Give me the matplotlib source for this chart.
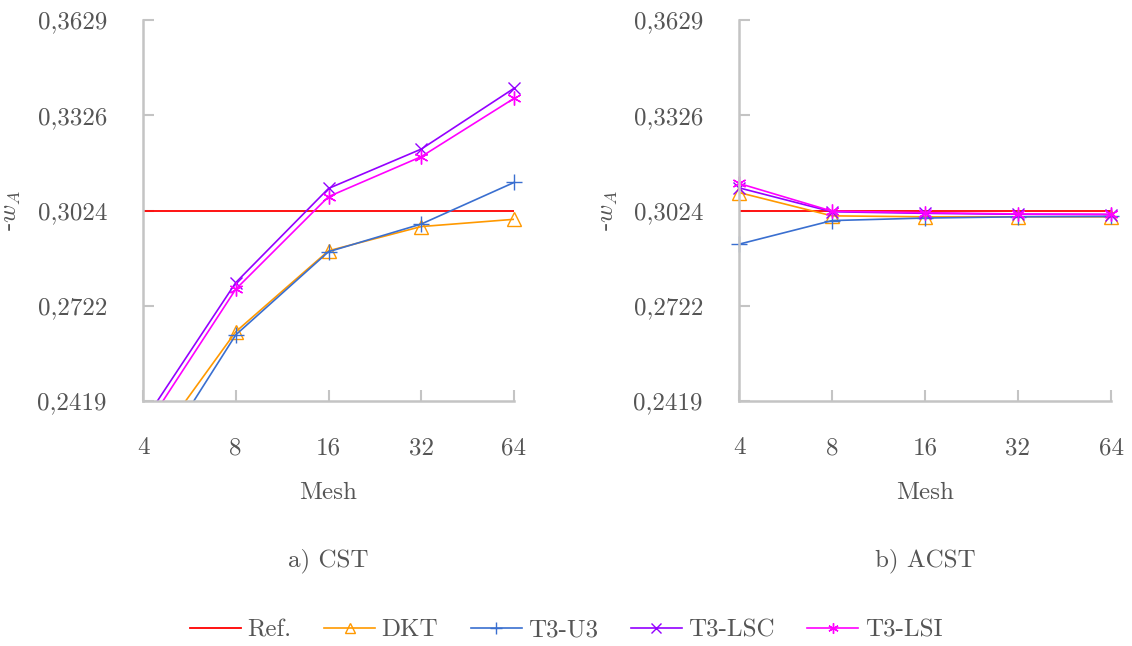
import numpy as np
import matplotlib
matplotlib.use('Agg')
import matplotlib.pyplot as plt
from matplotlib.lines import Line2D

plt.rcParams['font.family'] = ['cmr10', 'DejaVu Serif']
plt.rcParams['mathtext.fontset'] = 'cm'
plt.rcParams['axes.unicode_minus'] = False

mesh = [4, 8, 16, 32, 64]
ref = 0.3024
yticks = [0.2419, 0.2722, 0.3024, 0.3326, 0.3629]
ytick_labels = ['0,2419', '0,2722', '0,3024', '0,3326', '0,3629']

# a) CST
cst_dkt = [0.2232, 0.2639, 0.2896, 0.2973, 0.2996]
cst_u3 = [0.2165, 0.2629, 0.2893, 0.2981, 0.3113]
cst_lsc = [0.2350, 0.2795, 0.3094, 0.3219, 0.3412]
cst_lsi = [0.2322, 0.2774, 0.3068, 0.3195, 0.3380]

# b) ACST
acst_dkt = [0.3081, 0.3007, 0.3004, 0.3004, 0.3004]
acst_u3 = [0.2917, 0.2992, 0.3000, 0.3004, 0.3005]
acst_lsc = [0.3096, 0.3020, 0.3015, 0.3012, 0.3011]
acst_lsi = [0.3110, 0.3022, 0.3017, 0.3013, 0.3012]

grey = '#c4c4c4'
txt = '#555555'
fs = 18
ymin, ymax = 0.2419, 0.3629

fig = plt.figure(figsize=(11.32, 6.46), dpi=100)
ax1 = fig.add_axes([143 / 1132, 1 - 401 / 646, 371 / 1132, 381 / 646])
ax2 = fig.add_axes([739 / 1132, 1 - 401 / 646, 372 / 1132, 381 / 646])

styles = [
    ('DKT', '#ff9900', '^', 10, dict(markerfacecolor='none')),
    ('T3-U3', '#3a6fd0', '+', 11, {}),
    ('T3-LSC', '#9400ff', 'x', 9, {}),
    ('T3-LSI', '#ff00ff', (6, 2, 0), 10, {}),
]


def draw(ax, series, title):
    ax.set_xscale('log', base=2)
    ax.axhline(ref, color='red', lw=1.3)
    for (name, col, mk, ms, kw), vals in zip(styles, series):
        ax.plot(mesh, vals, color=col, lw=1.2)
        xs = [m for m, v in zip(mesh, vals) if v >= ymin]
        ys = [v for v in vals if v >= ymin]
        ax.plot(xs, ys, ls='none', color=col, marker=mk, markersize=ms,
                markeredgewidth=1.0, clip_on=False, **kw)
    ax.set_xlim(4, 64)
    ax.set_ylim(ymin, ymax)
    ax.set_xticks(mesh)
    ax.set_xticklabels([str(m) for m in mesh])
    ax.minorticks_off()
    ax.set_yticks(yticks)
    ax.set_yticklabels(ytick_labels)
    for s in ['top', 'right']:
        ax.spines[s].set_visible(False)
    for s in ['left', 'bottom']:
        ax.spines[s].set_color(grey)
        ax.spines[s].set_linewidth(1.8)
    ax.tick_params(direction='in', length=8, width=1.5, color=grey,
                   labelsize=fs, labelcolor=txt, pad=26)
    ax.set_xlabel('Mesh', fontsize=fs, color=txt, labelpad=16)
    ax.set_ylabel(r'-$w_A$', fontsize=fs, color=txt, labelpad=10)
    ax.text(0.5, -0.42, title, transform=ax.transAxes, ha='center',
            va='center', fontsize=fs, color=txt)


draw(ax1, [cst_dkt, cst_u3, cst_lsc, cst_lsi], 'a) CST')
draw(ax2, [acst_dkt, acst_u3, acst_lsc, acst_lsi], 'b) ACST')

handles = [Line2D([], [], color='red', lw=1.3)]
labels = ['Ref.']
for name, col, mk, ms, kw in styles:
    handles.append(Line2D([], [], color=col, lw=1.2, marker=mk,
                          markersize=ms * 0.75, markeredgewidth=1.0, **kw))
    labels.append(name)
leg = fig.legend(handles, labels, loc='center', bbox_to_anchor=(0.5, 1 - 630 / 646),
                 ncol=5, frameon=False, fontsize=fs, handlelength=2.05,
                 columnspacing=1.3, handletextpad=0.25)
for t in leg.get_texts():
    t.set_color(txt)

fig.savefig('out.png', dpi=100)
